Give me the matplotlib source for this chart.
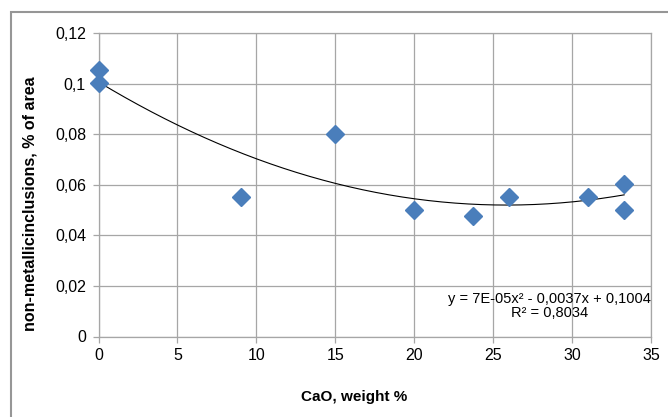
import matplotlib.pyplot as plt
import numpy as np
from matplotlib.patches import Rectangle

# CaO content vs non-metallic inclusions
cao = [0, 0, 9, 15, 20, 23.7, 26, 31, 33.3, 33.3]
inclusions = [0.1055, 0.1003, 0.0554, 0.080, 0.050, 0.0478, 0.0553, 0.0551, 0.0603, 0.0501]
x_ticks = [0, 5, 10, 15, 20, 25, 30, 35]
y_ticks = [0, 0.02, 0.04, 0.06, 0.08, 0.1, 0.12]
y_tick_labels = ["0", "0,02", "0,04", "0,06", "0,08", "0,1", "0,12"]
eq_text = "y = 7E-05x² - 0,0037x + 0,1004\nR² = 0,8034"

plt.rcParams['font.family'] = ['Liberation Sans', 'DejaVu Sans']

W, H = 668, 417
fig = plt.figure(figsize=(W / 100, H / 100), dpi=100)
ax = fig.add_axes([98.5 / W, 1 - 336.5 / H, (651 - 98.5) / W, (336.5 - 33.3) / H])

# outer chart frame
fig.patches.append(Rectangle((11 / W, -0.1), 1.2, 1 - 12 / H + 0.1, transform=fig.transFigure,
                             fill=False, edgecolor='#969696', linewidth=1.5))

# trendline (2nd order polynomial)
coef = np.polyfit(cao, inclusions, 2)
xs = np.linspace(min(cao), max(cao), 200)
ax.plot(xs, np.polyval(coef, xs), color='black', linewidth=0.8, zorder=2)

ax.plot(cao, inclusions, linestyle='none', marker='D', markersize=9.5,
        color='#4a7ebb', markeredgecolor='#4a7ebb', zorder=3, clip_on=False)

ax.set_xlim(0, 35)
ax.set_ylim(0, 0.12)
ax.set_xticks(x_ticks)
ax.set_yticks(y_ticks)
ax.set_yticklabels(y_tick_labels)
ax.grid(True, color='#a6a6a6', linewidth=0.9)
ax.set_axisbelow(True)
for s in ax.spines.values():
    s.set_color('#a6a6a6')
    s.set_linewidth(0.9)
ax.tick_params(axis='both', colors='#a6a6a6', labelcolor='black', labelsize=11.5,
               length=4, width=0.9, direction='out')
ax.tick_params(axis='x', pad=4)
ax.tick_params(axis='y', pad=5)

ax.text(0.816, 0.10, eq_text, transform=ax.transAxes, ha='center', va='center',
        fontsize=10.5, linespacing=1.05)

fig.text(30 / W, 1 - 204 / H, "non-metallicinclusions, % of area", rotation=90,
         ha='center', va='center', fontsize=11.5, fontweight='bold')
fig.text(354 / W, 1 - 397 / H, "CaO, weight %", ha='center', va='center',
         fontsize=11, fontweight='bold')

fig.savefig('out.png', dpi=100)
